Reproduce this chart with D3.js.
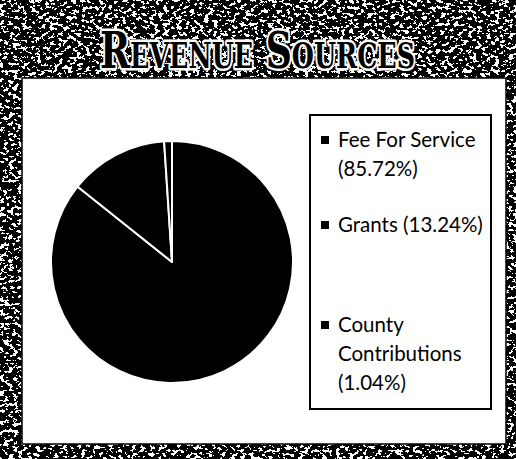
<!DOCTYPE html>
<html>
<head>
<meta charset="utf-8">
<script src="https://cdn.jsdelivr.net/npm/d3@7"></script>
<style>
  body { margin: 0; background: #fff; }
  svg { display: block; }
</style>
</head>
<body>
<div id="chart"></div>
<script>
const CATEGORIES = ["Fee For Service", "Grants", "County Contributions"];
const SHARES = [85.72, 13.24, 1.04];
// legend lines, as wrapped in the picture
const LEGEND_LINES = [["Fee For Service", "(85.72%)"], ["Grants (13.24%)"], ["County", "Contributions", "(1.04%)"]];
const TITLE = "Revenue Sources";

const W = 516, H = 459;

const svg = d3.select("#chart")
    .append("svg")
        .attr("width", W)
        .attr("height", H)
        .attr("viewBox", `0 0 ${W} ${H}`);

// scanned, speckled frame texture
const defs = svg.append("defs");
const grain = defs.append("filter")
    .attr("id", "grain")
    .attr("filterUnits", "userSpaceOnUse")
    .attr("x", 0).attr("y", 0).attr("width", W).attr("height", H)
    .attr("color-interpolation-filters", "sRGB");
grain.append("feTurbulence")
    .attr("type", "fractalNoise")
    .attr("baseFrequency", "0.22 0.3")
    .attr("numOctaves", 3)
    .attr("seed", 7);
grain.append("feColorMatrix")
    .attr("type", "matrix")
    .attr("values", "1 0 0 0 0  1 0 0 0 0  1 0 0 0 0  0 0 0 0 1");
const ct = grain.append("feComponentTransfer");
const table = d3.range(40).map(i => i < 23 ? 0 : 1).join(" ");
["feFuncR", "feFuncG", "feFuncB"].forEach(f => ct.append(f).attr("type", "discrete").attr("tableValues", table));

svg.append("rect")
    .attr("width", W).attr("height", H)
    .attr("fill", "#000")
    .attr("filter", "url(#grain)");

// white panel
svg.append("rect")
    .attr("x", 22).attr("y", 78)
    .attr("width", 484).attr("height", 366)
    .attr("fill", "#fff")
    .attr("stroke", "#000")
    .attr("stroke-width", 1.5);

// title
svg.append("text")
    .attr("x", 100)
    .attr("y", 68)
    .attr("textLength", 315)
    .attr("lengthAdjust", "spacingAndGlyphs")
    .style("font-family", "'DejaVu Serif', serif")
    .style("font-weight", "bold")
    .style("font-variant", "small-caps")
    .style("font-size", "50px")
    .style("paint-order", "stroke")
    .attr("stroke", "#fff")
    .attr("stroke-width", 5)
    .attr("stroke-linejoin", "round")
    .attr("fill", "#000")
    .text(TITLE);

// pie
const cx = 172, cy = 262, r = 121;
const pie = d3.pie().sort(null).value(d => d);
const arc = d3.arc().innerRadius(0).outerRadius(r);

svg.append("g")
    .attr("transform", `translate(${cx},${cy})`)
    .selectAll("path")
    .data(pie(SHARES))
    .enter()
    .append("path")
        .attr("d", arc)
        .attr("fill", "#000")
        .attr("stroke", "#fff")
        .attr("stroke-width", 2)
        .attr("stroke-linejoin", "round");

// legend
const legend = svg.append("g");
legend.append("rect")
    .attr("x", 310).attr("y", 115)
    .attr("width", 181).attr("height", 294)
    .attr("fill", "#fff")
    .attr("stroke", "#000")
    .attr("stroke-width", 2);

const itemY = [147, 232, 332]; // first baseline of each entry
const lineGap = 29;

const items = legend.selectAll("g.item")
    .data(CATEGORIES)
    .enter()
    .append("g")
        .attr("class", "item");

items.append("rect")
    .attr("x", 321)
    .attr("y", (d, i) => itemY[i] - 11)
    .attr("width", 8).attr("height", 8)
    .attr("fill", "#000");

items.append("text")
    .attr("x", 338)
    .attr("y", (d, i) => itemY[i])
    .style("font-family", "Lato, sans-serif")
    .style("font-size", "20.5px")
    .attr("fill", "#000")
    .selectAll("tspan")
    .data((d, i) => LEGEND_LINES[i])
    .enter()
    .append("tspan")
        .attr("x", 338)
        .attr("dy", (d, j) => j === 0 ? 0 : lineGap)
        .text(d => d);
</script>
</body>
</html>
